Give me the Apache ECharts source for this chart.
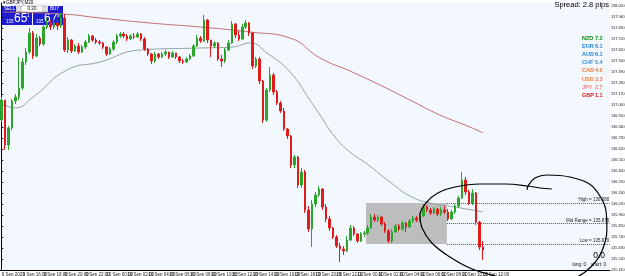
<!DOCTYPE html>
<html>
<head>
<meta charset="utf-8">
<script src="https://cdn.jsdelivr.net/npm/echarts@6/dist/echarts.min.js"></script>
<style>
html, body { margin: 0; padding: 0; background: #fff; }
#chart { width: 625px; height: 276px; }
</style>
</head>
<body>
<div id="chart"></div>
<script>
// price scale (right axis)
const priceMin = 135.41;
const priceMax = 138.08;
const priceStep = 0.11;

// time labels, one every labelEvery bars (M20: 6 bars = 2 hours)
const timeLabels = ['9 Sep 2020', '9 Sep 16:00', '9 Sep 18:00', '9 Sep 20:00', '9 Sep 22:00',
  '10 Sep 00:00', '10 Sep 02:00', '10 Sep 04:00', '10 Sep 06:00', '10 Sep 08:00', '10 Sep 10:00',
  '10 Sep 12:00', '10 Sep 14:00', '10 Sep 16:00', '10 Sep 18:00', '10 Sep 20:00', '10 Sep 22:00',
  '11 Sep 00:00', '11 Sep 02:00', '11 Sep 04:00', '11 Sep 06:00', '11 Sep 08:00', '11 Sep 10:00',
  '11 Sep 12:00'];
const labelEvery = 6;
const slotCount = 175; // bars + empty shift area on the right

// [open, close, low, high]
const ohlc = [
  [136.91, 137.11, 136.89, 137.14], [137.11, 136.66, 136.61, 137.11], [136.66, 136.83, 136.61, 136.85],
  [136.83, 137.10, 136.81, 137.12], [137.10, 137.14, 137.07, 137.17], [137.14, 137.23, 137.11, 137.54],
  [137.23, 137.49, 137.21, 137.53], [137.49, 137.59, 137.46, 137.63], [137.59, 137.78, 137.57, 137.83],
  [137.78, 137.55, 137.52, 137.80], [137.55, 137.73, 137.54, 137.77], [137.73, 137.67, 137.65, 137.75],
  [137.67, 137.84, 137.65, 137.87], [137.84, 137.89, 137.82, 137.93], [137.89, 137.84, 137.81, 137.91],
  [137.84, 137.88, 137.82, 137.92], [137.88, 137.85, 137.81, 137.91], [137.85, 137.93, 137.83, 137.98],
  [137.93, 137.61, 137.59, 137.97], [137.61, 137.71, 137.58, 137.74], [137.71, 137.60, 137.58, 137.72],
  [137.60, 137.65, 137.59, 137.67], [137.65, 137.59, 137.57, 137.68], [137.59, 137.64, 137.58, 137.66],
  [137.64, 137.69, 137.62, 137.71], [137.69, 137.75, 137.68, 137.77], [137.75, 137.71, 137.69, 137.76],
  [137.71, 137.69, 137.67, 137.73], [137.69, 137.68, 137.66, 137.71], [137.68, 137.64, 137.62, 137.69],
  [137.64, 137.57, 137.55, 137.65], [137.57, 137.62, 137.56, 137.64], [137.62, 137.69, 137.60, 137.71],
  [137.69, 137.75, 137.67, 137.77], [137.75, 137.77, 137.73, 137.79], [137.77, 137.75, 137.73, 137.79],
  [137.75, 137.72, 137.70, 137.77], [137.72, 137.75, 137.71, 137.77], [137.75, 137.74, 137.72, 137.78],
  [137.74, 137.77, 137.73, 137.79], [137.77, 137.72, 137.70, 137.78], [137.72, 137.62, 137.60, 137.74],
  [137.62, 137.57, 137.55, 137.63], [137.57, 137.50, 137.47, 137.58], [137.50, 137.57, 137.48, 137.59],
  [137.57, 137.54, 137.52, 137.58], [137.54, 137.57, 137.53, 137.59], [137.57, 137.59, 137.55, 137.61],
  [137.59, 137.54, 137.52, 137.59], [137.54, 137.58, 137.53, 137.60], [137.58, 137.54, 137.52, 137.58],
  [137.54, 137.50, 137.48, 137.55], [137.50, 137.49, 137.47, 137.52], [137.49, 137.52, 137.48, 137.54],
  [137.52, 137.55, 137.51, 137.57], [137.55, 137.65, 137.54, 137.67], [137.65, 137.73, 137.64, 137.76],
  [137.73, 137.70, 137.68, 137.75], [137.70, 137.91, 137.69, 137.96], [137.91, 137.71, 137.68, 137.92],
  [137.71, 137.65, 137.54, 137.71], [137.65, 137.68, 137.63, 137.70], [137.68, 137.52, 137.50, 137.69],
  [137.52, 137.50, 137.44, 137.56], [137.50, 137.61, 137.48, 137.63], [137.61, 137.68, 137.60, 137.71],
  [137.68, 137.87, 137.67, 137.90], [137.87, 137.76, 137.73, 137.88], [137.76, 137.72, 137.70, 137.80],
  [137.72, 137.84, 137.71, 137.87], [137.84, 137.88, 137.82, 137.91], [137.88, 137.78, 137.75, 137.89],
  [137.78, 137.45, 137.42, 137.79], [137.45, 137.52, 137.43, 137.54], [137.52, 137.30, 137.27, 137.54],
  [137.30, 136.91, 136.88, 137.31], [136.91, 137.21, 136.89, 137.23], [137.21, 137.36, 137.19, 137.44],
  [137.36, 137.19, 137.16, 137.38], [137.19, 137.08, 137.06, 137.21], [137.08, 137.00, 136.98, 137.10],
  [137.00, 136.82, 136.80, 137.03], [136.82, 136.75, 136.72, 136.83], [136.75, 136.46, 136.43, 136.76],
  [136.46, 136.54, 136.43, 136.56], [136.54, 136.26, 136.23, 136.55], [136.26, 136.39, 136.23, 136.43],
  [136.39, 136.01, 135.98, 136.41], [136.01, 135.82, 135.79, 136.05], [135.82, 136.07, 135.64, 136.11],
  [136.07, 136.16, 136.04, 136.19], [136.16, 136.22, 136.14, 136.25], [136.22, 136.04, 136.01, 136.23],
  [136.04, 135.92, 135.89, 136.07], [135.92, 135.83, 135.80, 135.95], [135.83, 135.74, 135.72, 135.84],
  [135.74, 135.65, 135.63, 135.76], [135.65, 135.62, 135.49, 135.68], [135.62, 135.60, 135.56, 135.65],
  [135.60, 135.71, 135.59, 135.75], [135.71, 135.83, 135.70, 135.86], [135.83, 135.77, 135.75, 135.85],
  [135.77, 135.70, 135.68, 135.78], [135.70, 135.77, 135.69, 135.79], [135.77, 135.78, 135.74, 135.80],
  [135.78, 135.83, 135.76, 135.86], [135.83, 135.94, 135.82, 135.97], [135.94, 135.91, 135.89, 135.97],
  [135.91, 135.94, 135.89, 135.96], [135.94, 135.87, 135.85, 135.95], [135.87, 135.80, 135.78, 135.89],
  [135.80, 135.70, 135.68, 135.82], [135.70, 135.79, 135.68, 135.82], [135.79, 135.85, 135.78, 135.87],
  [135.85, 135.82, 135.80, 135.87], [135.82, 135.88, 135.80, 135.90], [135.88, 135.84, 135.79, 135.89],
  [135.84, 135.90, 135.83, 135.92], [135.90, 135.93, 135.88, 135.95], [135.93, 135.91, 135.89, 135.95],
  [135.91, 135.95, 135.89, 135.98], [135.95, 136.04, 135.94, 136.07], [136.04, 136.01, 135.99, 136.06],
  [136.01, 135.98, 135.96, 136.03], [135.98, 136.02, 135.97, 136.04], [136.02, 135.97, 135.95, 136.03],
  [135.97, 136.01, 135.95, 136.04], [136.01, 135.99, 135.97, 136.05], [135.99, 135.92, 135.90, 136.02],
  [135.92, 135.99, 135.91, 136.01], [135.99, 136.05, 135.97, 136.07], [136.05, 136.13, 136.03, 136.15],
  [136.13, 136.31, 136.12, 136.39], [136.31, 136.19, 136.16, 136.34], [136.19, 136.08, 136.06, 136.21],
  [136.08, 136.18, 136.06, 136.22], [136.18, 135.89, 135.86, 136.19], [135.89, 135.64, 135.61, 135.90],
  [135.64, 135.61, 135.51, 135.70]
];

// moving averages, read at bar positions [bar, price]
const maSlow = [[0.4, 137.99], [17.6, 137.97], [28.2, 137.93], [42.5, 137.88], [56.9, 137.84],
  [71.2, 137.79], [82.7, 137.73], [91.3, 137.53], [99.9, 137.40], [108.5, 137.26], [117.1, 137.11],
  [125.7, 136.96], [134.3, 136.84], [138.1, 136.78]];
const maFast = [[0, 137.08], [3.8, 137.03], [9.0, 137.14], [18.7, 137.41], [28.2, 137.49],
  [39.7, 137.61], [56.9, 137.63], [66.3, 137.64], [71.2, 137.68], [76.1, 137.58], [82.7, 137.39],
  [88.4, 137.11], [91.3, 136.96], [95.6, 136.74], [99.9, 136.59], [104.8, 136.47], [111.4, 136.29],
  [117.1, 136.15], [122.9, 136.08], [130.0, 136.04], [138.1, 135.99]];

// consolidation box and its levels
const boxStart = 104.5, boxEnd = 127.7;
const rangeHigh = 136.08, rangeLow = 135.67, rangeMid = 135.875;
const bid = 135.651;

// hand-drawn loop [bar, price]
const loopPath = [[157.8, 136.22], [154.4, 136.23], [151.0, 136.25], [144.4, 136.27], [137.2, 136.27],
  [130.0, 136.24], [125.1, 136.18], [121.7, 136.08], [120.0, 135.96], [120.6, 135.83], [123.4, 135.68],
  [128.6, 135.54], [134.3, 135.43], [141.5, 135.35], [148.7, 135.30], [157.3, 135.29], [164.4, 135.33],
  [169.3, 135.45], [172.3, 135.61], [173.6, 135.81], [173.4, 135.99], [171.8, 136.14], [168.6, 136.27],
  [163.0, 136.34], [156.7, 136.36], [153.0, 136.33], [151.0, 136.25], [150.7, 136.21]];

const strength = [['NZD', '7.2', '#0a8a0a'], ['EUR', '6.1', '#1e7fd8'], ['AUD', '6.1', '#1e7fd8'],
  ['CHF', '5.4', '#3d8fe0'], ['CAD', '4.6', '#f07a3a'], ['USD', '3.3', '#f07a3a'],
  ['JPY', '2.7', '#f08080'], ['GBP', '1.1', '#e01010']];

const categories = [];
for (let i = 0; i < slotCount; i++) {
  const k = i / labelEvery;
  categories.push(Number.isInteger(k) && k < timeLabels.length ? timeLabels[k] : '');
}

const font = 'Liberation Sans, Arial, sans-serif';
const blue = '#1d1dcf';

let myChart = echarts.init(document.getElementById('chart'));
let option;

const panel = [
  { type: 'rect', shape: { x: 2, y: 6, width: 14, height: 6 }, style: { fill: blue } },
  { type: 'text', x: 4, y: 6.5, style: { text: 'SELL', fill: '#fff', fontSize: 4.5, fontFamily: font } },
  { type: 'rect', shape: { x: 17, y: 6, width: 4, height: 6 }, style: { fill: '#e4e4e4', stroke: '#999', lineWidth: 0.5 } },
  { type: 'rect', shape: { x: 21, y: 6, width: 22, height: 6 }, style: { fill: '#fff', stroke: '#999', lineWidth: 0.5 } },
  { type: 'text', x: 32, y: 6.5, style: { text: '0.30', fill: '#000', fontSize: 4.5, align: 'center', fontFamily: font } },
  { type: 'rect', shape: { x: 43, y: 6, width: 4, height: 6 }, style: { fill: '#e4e4e4', stroke: '#999', lineWidth: 0.5 } },
  { type: 'rect', shape: { x: 48, y: 6, width: 15, height: 6 }, style: { fill: blue } },
  { type: 'text', x: 50, y: 6.5, style: { text: 'BUY', fill: '#fff', fontSize: 4.5, fontFamily: font } },
  { type: 'rect', shape: { x: 2, y: 12, width: 30, height: 13 }, style: { fill: blue } },
  { type: 'text', x: 6, y: 19, style: { text: '135', fill: '#fff', fontSize: 4.5, fontFamily: font } },
  { type: 'text', x: 14, y: 12.5, style: { text: '65', fill: '#fff', fontSize: 12, fontFamily: font } },
  { type: 'text', x: 27, y: 13, style: { text: '1', fill: '#fff', fontSize: 4.5, fontFamily: font } },
  { type: 'rect', shape: { x: 33, y: 12, width: 30, height: 13 }, style: { fill: blue } },
  { type: 'text', x: 36, y: 19, style: { text: '135', fill: '#fff', fontSize: 4.5, fontFamily: font } },
  { type: 'text', x: 44, y: 12.5, style: { text: '67', fill: '#fff', fontSize: 12, fontFamily: font } },
  { type: 'text', x: 57, y: 13, style: { text: '9', fill: '#fff', fontSize: 4.5, fontFamily: font } },
  { type: 'text', x: 3, y: 0, style: { text: '▾GBPJPY,M20', fill: '#000', fontSize: 4.5, fontFamily: font } },
  { type: 'text', x: 609, y: 1, style: { text: 'Spread: 2.8 pips', fill: '#000', fontSize: 7.5, align: 'right', fontFamily: font } },
  { type: 'text', x: 605, y: 251, style: { text: '0.0', fill: '#000', fontSize: 8.5, align: 'right', fontFamily: font } },
  { type: 'text', x: 606, y: 262, style: { text: 'long: 0    short: 0', fill: '#000', fontSize: 4.5, align: 'right', fontFamily: font } }
];
strength.forEach(function (s, i) {
  panel.push({ type: 'text', x: 582, y: 35 + i * 8.2, style: { text: s[0], fill: s[2], fontSize: 5.5, fontWeight: 'bold', fontFamily: font } });
  panel.push({ type: 'text', x: 595, y: 35 + i * 8.2, style: { text: s[1], fill: s[2], fontSize: 5.5, fontWeight: 'bold', fontFamily: font } });
});

const levels = [['High', rangeHigh], ['Mid Range', rangeMid], ['Low', rangeLow]];

option = {
  animation: false,
  backgroundColor: '#ffffff',
  textStyle: { fontFamily: font },
  grid: {
    left: 0, top: 3, right: 15, bottom: 6,
    outerBoundsMode: 'none', containLabel: false,
    show: true, backgroundColor: '#f2f8fe', borderWidth: 0
  },
  xAxis: [
    {
      type: 'category',
      data: categories,
      boundaryGap: true,
      axisLine: { lineStyle: { color: '#000', width: 1 } },
      axisTick: { interval: labelEvery - 1, alignWithLabel: true, length: 2, lineStyle: { color: '#000' } },
      axisLabel: { interval: 0, fontSize: 4.5, color: '#222', align: 'left', margin: 2 },
      splitLine: { show: false }
    },
    { type: 'value', min: -0.5, max: slotCount - 0.5, show: false }
  ],
  yAxis: {
    type: 'value',
    position: 'right',
    min: priceMin,
    max: priceMax,
    interval: priceStep,
    axisLine: { show: true, lineStyle: { color: '#000', width: 1 } },
    axisTick: { show: true, length: 1.5, lineStyle: { color: '#000' } },
    axisLabel: { fontSize: 3.8, color: '#222', margin: 1, formatter: function (v) { return v.toFixed(3); } },
    splitLine: { show: false }
  },
  graphic: panel,
  series: [
    {
      name: 'GBPJPY',
      type: 'candlestick',
      data: ohlc,
      barWidth: 2,
      z: 4,
      itemStyle: { color: '#2ca52c', color0: '#e01b1b', borderColor: '#2ca52c', borderColor0: '#e01b1b', borderWidth: 1 }
    },
    {
      name: 'MA slow',
      type: 'line',
      xAxisIndex: 1,
      data: maSlow,
      smooth: true,
      symbol: 'none',
      z: 3,
      lineStyle: { color: '#c07070', width: 1 }
    },
    {
      name: 'MA fast',
      type: 'line',
      xAxisIndex: 1,
      data: maFast,
      smooth: true,
      symbol: 'none',
      z: 3,
      lineStyle: { color: '#94a4a4', width: 1 },
      markArea: {
        silent: true,
        itemStyle: { color: '#bdbdbd', opacity: 1 },
        data: [[{ coord: [boxStart, rangeHigh] }, { coord: [boxEnd, rangeLow] }]]
      },
      markLine: {
        silent: true,
        symbol: 'none',
        lineStyle: { type: 'dotted', color: '#555', width: 1 },
        label: { position: 'insideEndTop', fontSize: 4.5, color: '#222', distance: 0.5, formatter: '{b}' },
        data: levels.map(function (l) {
          return [{ name: l[0] + ' = ' + l[1].toFixed(3), coord: [boxEnd, l[1]] }, { coord: [slotCount - 0.6, l[1]] }];
        }).concat([{
          yAxis: bid,
          lineStyle: { opacity: 0 },
          label: { position: 'end', distance: 1, formatter: bid.toFixed(3), backgroundColor: '#000', color: '#fff', fontSize: 3.8, padding: [1, 0.5] }
        }])
      }
    },
    {
      name: 'drawing',
      type: 'line',
      xAxisIndex: 1,
      data: loopPath,
      smooth: 0.4,
      symbol: 'none',
      clip: false,
      z: 10,
      lineStyle: { color: '#000', width: 1.2 }
    }
  ]
};

option && myChart.setOption(option);
</script>
</body>
</html>
